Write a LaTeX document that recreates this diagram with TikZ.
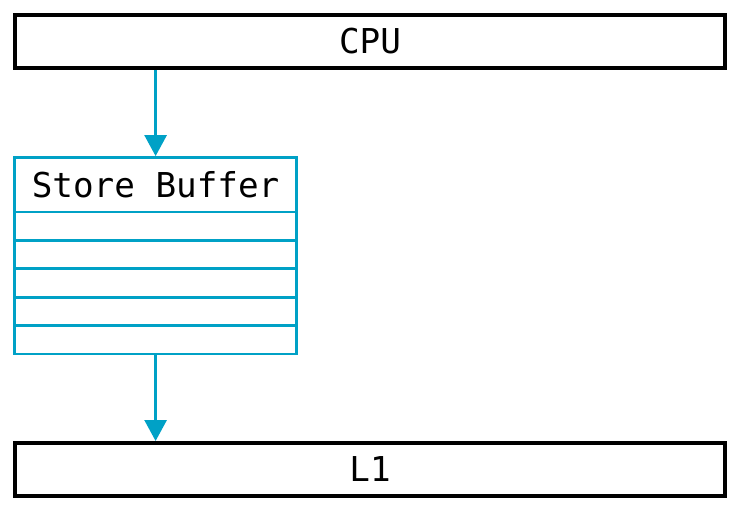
\documentclass[tikz,border=0pt]{standalone}
\usepackage{fontspec}
\setmonofont{DejaVu Sans Mono}
\usetikzlibrary{arrows.meta}

\definecolor{sbcyan}{RGB}{0,161,198}

\tikzset{
  unitbox/.style={draw=black, line width=2pt, minimum width=14.2cm, minimum height=1.06cm,
    inner sep=0pt, font=\ttfamily\fontsize{19.5}{22}\selectfont},
  sbrow/.style={draw=sbcyan, line width=1.6pt, minimum width=5.64cm, minimum height=0.568cm, inner sep=0pt},
  sbhead/.style={sbrow, minimum height=1.09cm, font=\ttfamily\fontsize{19.5}{22}\selectfont},
  flow/.style={draw=sbcyan, line width=1.6pt, -{Triangle[length=0.42cm,width=0.44cm]}}
}

\begin{document}
\begin{tikzpicture}[x=0.02cm,y=-0.02cm]

    \useasboundingbox (0,0) rectangle (743,518);

    % processor
    \node[unitbox] (cpu) at (370,41.5) {CPU};

    % store buffer header
    \node[sbhead] (sb) at (155.6,184.75) {Store Buffer};

    % store buffer entries
    \foreach \i in {1,...,5}
        \node[sbrow] (sb\i) at (155.6,{212+(\i-0.5)*28.4}) {};

    % level one cache
    \node[unitbox] (l1) at (370,469.25) {L1};

    % stores into the buffer
    \draw[flow] (cpu.south -| sb.north) -- (sb.north);

    % drained to cache
    \draw[flow] (sb5.south) -- (l1.north -| sb5.south);

\end{tikzpicture}
\end{document}
